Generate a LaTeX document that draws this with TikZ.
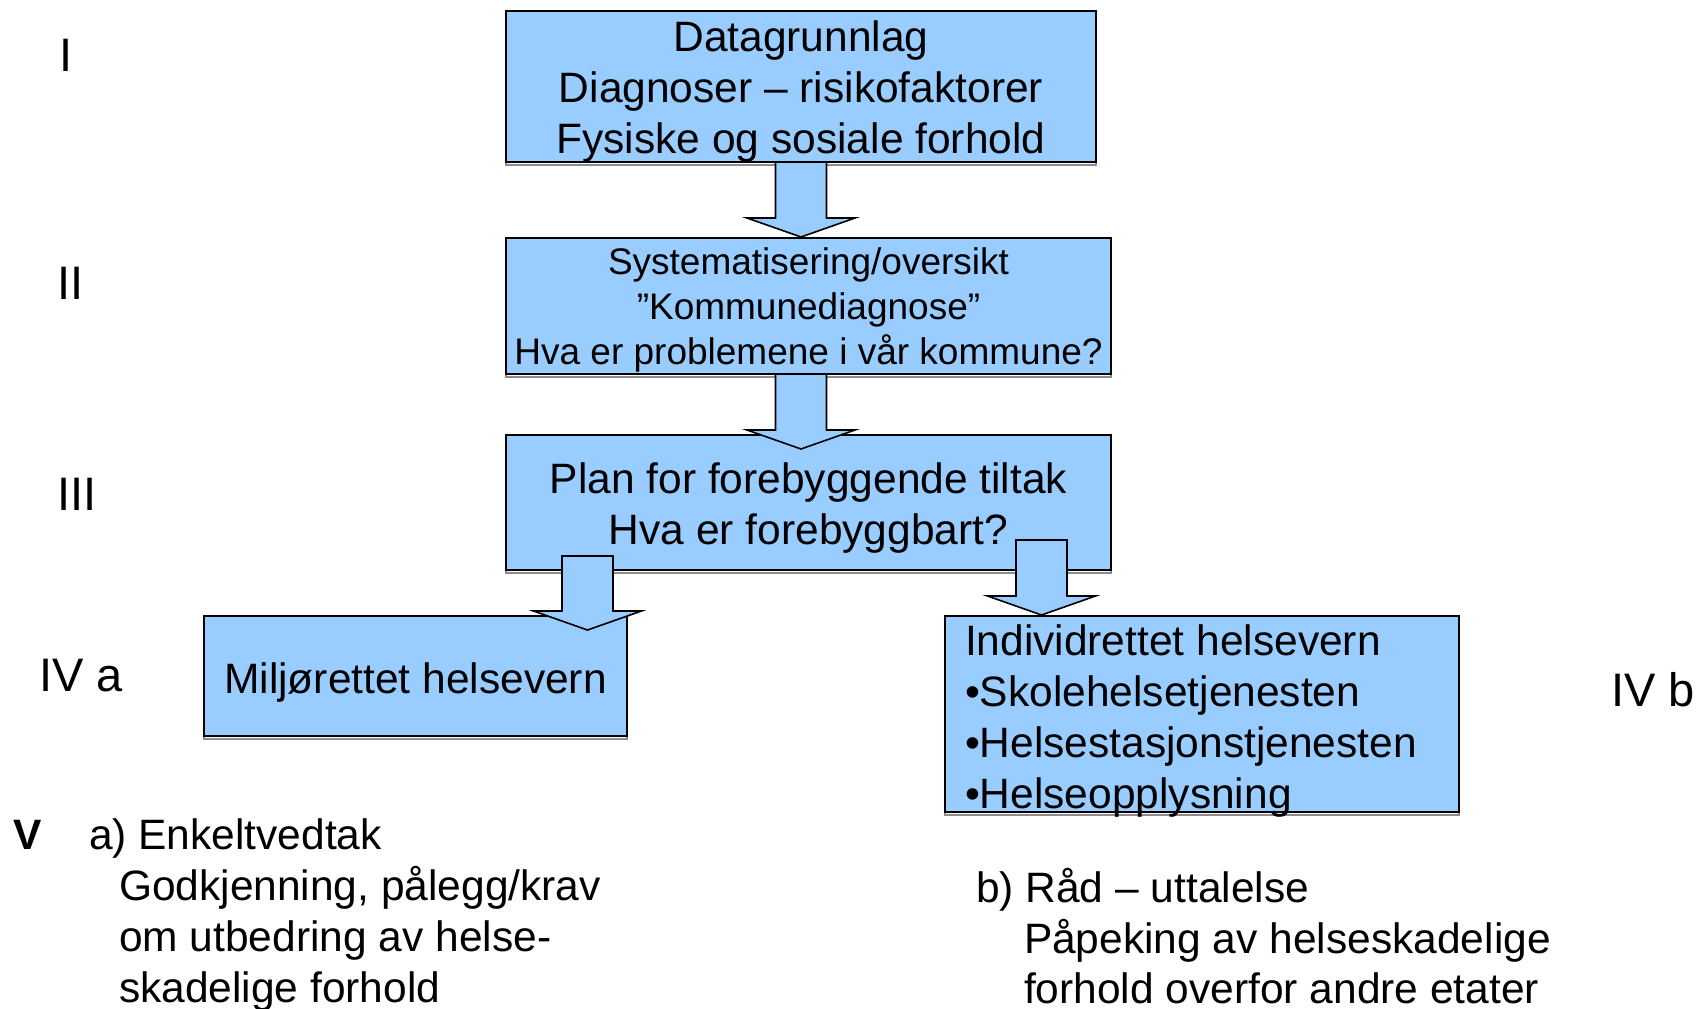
\documentclass[tikz,border=0pt]{standalone}
\usepackage{fontspec}
\setmainfont{Liberation Sans}
\usetikzlibrary{calc}
\definecolor{boxblue}{HTML}{99CCFF}
\newcommand\blockarr[2]{%
  \path[blockarrow] let \p1=#1, \p2=#2 in
  (\x1-25.5pt,\y1) -- (\x1+25.5pt,\y1) -- (\x1+25.5pt,\y2+19pt) --
  (\x1+54pt,\y2+19pt) -- (\x1,\y2) -- (\x1-54pt,\y2+19pt) --
  (\x1-25.5pt,\y2+19pt) -- cycle;}
\begin{document}
\begin{tikzpicture}[x=1pt,y=-1pt,
  every node/.style={inner sep=0pt,outer sep=0pt},
  bigfont/.style={font=\fontsize{42.5}{51}\selectfont},
  midfont/.style={font=\fontsize{37}{45}\selectfont},
  box/.style={draw=black,line width=1.8pt,fill=boxblue,
    preaction={draw=black!45,line width=2pt,transform canvas={shift={(0pt,-2.5pt)}}}},
  boxtext/.style={bigfont,align=center},
  lbl/.style={bigfont},
  level/.style={font=\fontsize{47}{51}\selectfont},
  blockarrow/.style={draw=black,line width=1.6pt,fill=boxblue,line join=miter}]
\useasboundingbox[fill=white] (0,0) rectangle (1698,1009);

% boxes
\node[box,minimum width=590pt,minimum height=151pt] (b1) at (801,86.5) {};
\node[box,minimum width=605pt,minimum height=136pt] (b2) at (808.5,306) {};
\node[box,minimum width=605pt,minimum height=135pt] (b3) at (808.5,502.5) {};
\node[box,minimum width=423pt,minimum height=120pt] (b4a) at (415.5,676) {};
\node[box,minimum width=514pt,minimum height=196pt] (b4b) at (1202,714) {};

% box texts
\node[boxtext] (t1) at ($(b1.center)+(0,5)$) {Datagrunnlag\\Diagnoser – risikofaktorer\\Fysiske og sosiale forhold};
\node[midfont,align=center] (t2) at ($(b2.center)+(0,4)$) {Systematisering/oversikt\\”Kommunediagnose”\\Hva er problemene i vår kommune?};
\node[boxtext] (t3) at ($(b3.center)+(0,6)$) {Plan for forebyggende tiltak\\Hva er forebyggbart?};
\node[boxtext] (t4a) at ($(b4a.center)+(0,7)$) {Miljørettet helsevern};
\node[bigfont,align=left,anchor=west] (t4b) at ($(b4b.west)+(20,7)$) {Individrettet helsevern\\•Skolehelsetjenesten\\•Helsestasjonstjenesten\\•Helseopplysning};

% arrow end points
\coordinate (a1s) at (b1.south);
\coordinate (a1e) at ($(b1.south |- b2.north)+(0,-1)$);
\coordinate (a2s) at (b1.south |- b2.south);
\coordinate (a2e) at ($(b1.south |- b3.north)+(0,14)$);
\coordinate (a3s) at ($(b4a.north east)+(-39.5,-60)$);
\coordinate (a3e) at ($(b4a.north east)+(-39.5,14)$);
\coordinate (a4s) at ($(b4b.north west)+(96.5,-76)$);
\coordinate (a4e) at ($(b4b.north west)+(96.5,-1)$);

\blockarr{(a1s)}{(a1e)}
\blockarr{(a2s)}{(a2e)}
\blockarr{(a3s)}{(a3e)}
\blockarr{(a4s)}{(a4e)}

% level labels
\node[level,anchor=west] (l1) at (59,55) {I};
\node[level,anchor=west] (l2) at (57,283) {II};
\node[level,anchor=west] (l3) at (57,494) {III};
\node[level,anchor=west] (l4a) at (39,676) {IV a};
\node[level,anchor=west] (l4b) at (1611,690) {IV b};
\node[lbl,anchor=base west,font=\fontsize{42.5}{51}\selectfont\bfseries] (l5) at (13,849) {V};

% bottom texts
\node[lbl,anchor=base west] (va1) at (89,849) {a) Enkeltvedtak};
\node[lbl,anchor=base west] (va2) at (119,900) {Godkjenning, pålegg/krav};
\node[lbl,anchor=base west] (va3) at (119,951) {om utbedring av helse-};
\node[lbl,anchor=base west] (va4) at (119,1002) {skadelige forhold};
\node[lbl,anchor=base west] (vb1) at (976,902) {b) Råd – uttalelse};
\node[lbl,anchor=base west] (vb2) at (1024,953) {Påpeking av helseskadelige};
\node[lbl,anchor=base west] (vb3) at (1024,1003) {forhold overfor andre etater};
\end{tikzpicture}
\end{document}
